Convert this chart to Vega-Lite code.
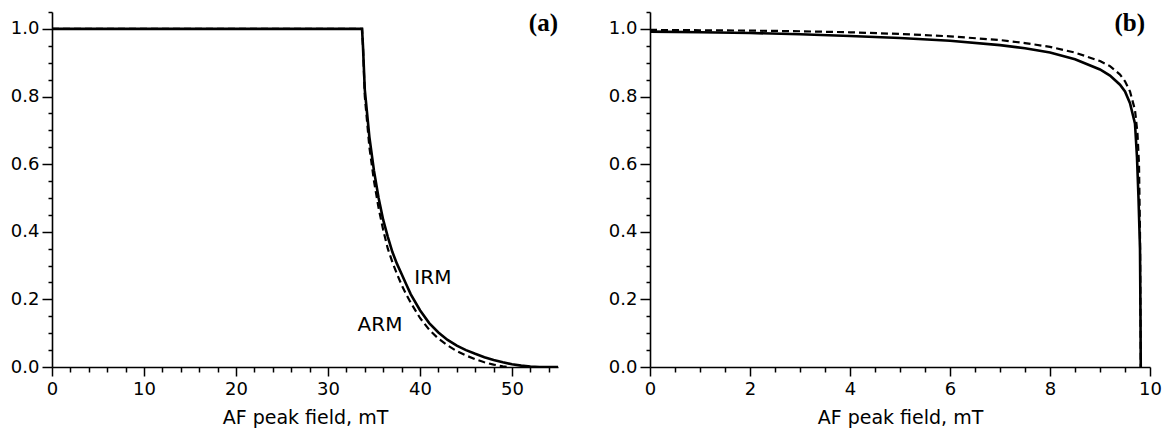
{
  "$schema": "https://vega.github.io/schema/vega-lite/v6.json",
  "padding": {"left": 10, "top": 10, "right": 5, "bottom": 5},
  "background": "white",
  "config": {
    "view": {"stroke": null},
    "font": "DejaVu Sans",
    "axis": {
      "grid": false,
      "domainColor": "black",
      "domainWidth": 1.6,
      "tickColor": "black",
      "tickWidth": 1.5,
      "labelFont": "DejaVu Sans",
      "labelFontSize": 18,
      "labelColor": "black",
      "titleFont": "DejaVu Sans",
      "titleFontSize": 19,
      "titleFontWeight": "normal",
      "titleColor": "black"
    }
  },
  "datasets": {
    "a": [
      {"s": "IRM", "x": 0, "y": 1}, {"s": "IRM", "x": 33.7, "y": 1}, {"s": "IRM", "x": 33.8, "y": 0.95}, {"s": "IRM", "x": 34, "y": 0.82}, {"s": "IRM", "x": 34.5, "y": 0.68}, {"s": "IRM", "x": 35, "y": 0.58}, {"s": "IRM", "x": 35.5, "y": 0.5}, {"s": "IRM", "x": 36, "y": 0.435}, {"s": "IRM", "x": 36.5, "y": 0.385}, {"s": "IRM", "x": 37, "y": 0.34}, {"s": "IRM", "x": 37.5, "y": 0.305}, {"s": "IRM", "x": 38, "y": 0.275}, {"s": "IRM", "x": 38.5, "y": 0.245}, {"s": "IRM", "x": 39, "y": 0.215}, {"s": "IRM", "x": 40, "y": 0.168}, {"s": "IRM", "x": 41, "y": 0.13}, {"s": "IRM", "x": 42, "y": 0.102}, {"s": "IRM", "x": 43, "y": 0.08}, {"s": "IRM", "x": 44, "y": 0.063}, {"s": "IRM", "x": 45, "y": 0.05}, {"s": "IRM", "x": 46, "y": 0.039}, {"s": "IRM", "x": 47, "y": 0.029}, {"s": "IRM", "x": 48, "y": 0.021}, {"s": "IRM", "x": 49, "y": 0.014}, {"s": "IRM", "x": 50, "y": 0.008}, {"s": "IRM", "x": 51, "y": 0.004}, {"s": "IRM", "x": 52, "y": 0.001}, {"s": "IRM", "x": 53, "y": 0}, {"s": "IRM", "x": 55, "y": 0},
      {"s": "ARM", "x": 0, "y": 1}, {"s": "ARM", "x": 33.7, "y": 1}, {"s": "ARM", "x": 33.8, "y": 0.95}, {"s": "ARM", "x": 34, "y": 0.8}, {"s": "ARM", "x": 34.5, "y": 0.65}, {"s": "ARM", "x": 35, "y": 0.55}, {"s": "ARM", "x": 35.5, "y": 0.47}, {"s": "ARM", "x": 36, "y": 0.405}, {"s": "ARM", "x": 36.5, "y": 0.35}, {"s": "ARM", "x": 37, "y": 0.31}, {"s": "ARM", "x": 37.5, "y": 0.275}, {"s": "ARM", "x": 38, "y": 0.243}, {"s": "ARM", "x": 38.5, "y": 0.215}, {"s": "ARM", "x": 39, "y": 0.19}, {"s": "ARM", "x": 40, "y": 0.145}, {"s": "ARM", "x": 41, "y": 0.11}, {"s": "ARM", "x": 42, "y": 0.084}, {"s": "ARM", "x": 43, "y": 0.064}, {"s": "ARM", "x": 44, "y": 0.047}, {"s": "ARM", "x": 45, "y": 0.034}, {"s": "ARM", "x": 46, "y": 0.023}, {"s": "ARM", "x": 47, "y": 0.014}, {"s": "ARM", "x": 48, "y": 0.007}, {"s": "ARM", "x": 49, "y": 0.002}, {"s": "ARM", "x": 49.5, "y": 0}
    ],
    "b": [
      {"s": "IRM", "x": 0, "y": 0.992}, {"s": "IRM", "x": 1, "y": 0.99}, {"s": "IRM", "x": 2, "y": 0.988}, {"s": "IRM", "x": 3, "y": 0.984}, {"s": "IRM", "x": 4, "y": 0.979}, {"s": "IRM", "x": 5, "y": 0.973}, {"s": "IRM", "x": 6, "y": 0.965}, {"s": "IRM", "x": 7, "y": 0.952}, {"s": "IRM", "x": 7.5, "y": 0.943}, {"s": "IRM", "x": 8, "y": 0.93}, {"s": "IRM", "x": 8.5, "y": 0.91}, {"s": "IRM", "x": 9, "y": 0.88}, {"s": "IRM", "x": 9.2, "y": 0.862}, {"s": "IRM", "x": 9.4, "y": 0.835}, {"s": "IRM", "x": 9.5, "y": 0.815}, {"s": "IRM", "x": 9.6, "y": 0.78}, {"s": "IRM", "x": 9.7, "y": 0.72}, {"s": "IRM", "x": 9.74, "y": 0.62}, {"s": "IRM", "x": 9.77, "y": 0.5}, {"s": "IRM", "x": 9.8, "y": 0.35}, {"s": "IRM", "x": 9.81, "y": 0.15}, {"s": "IRM", "x": 9.815, "y": 0},
      {"s": "ARM", "x": 0, "y": 0.997}, {"s": "ARM", "x": 1, "y": 0.996}, {"s": "ARM", "x": 2, "y": 0.995}, {"s": "ARM", "x": 3, "y": 0.993}, {"s": "ARM", "x": 4, "y": 0.99}, {"s": "ARM", "x": 5, "y": 0.985}, {"s": "ARM", "x": 6, "y": 0.978}, {"s": "ARM", "x": 7, "y": 0.967}, {"s": "ARM", "x": 7.5, "y": 0.958}, {"s": "ARM", "x": 8, "y": 0.947}, {"s": "ARM", "x": 8.5, "y": 0.93}, {"s": "ARM", "x": 9, "y": 0.905}, {"s": "ARM", "x": 9.2, "y": 0.89}, {"s": "ARM", "x": 9.4, "y": 0.865}, {"s": "ARM", "x": 9.5, "y": 0.845}, {"s": "ARM", "x": 9.6, "y": 0.815}, {"s": "ARM", "x": 9.7, "y": 0.76}, {"s": "ARM", "x": 9.75, "y": 0.69}, {"s": "ARM", "x": 9.78, "y": 0.6}, {"s": "ARM", "x": 9.8, "y": 0.4}, {"s": "ARM", "x": 9.81, "y": 0.15}, {"s": "ARM", "x": 9.815, "y": 0}
    ],
    "alabels": [
      {"t": "(a)", "x": 55, "y": 1.018, "k": "panel"},
      {"t": "IRM", "x": 41.4, "y": 0.263, "k": "curve"},
      {"t": "ARM", "x": 35.65, "y": 0.124, "k": "curve"}
    ],
    "blabels": [
      {"t": "(b)", "x": 9.9, "y": 1.018, "k": "panel"}
    ]
  },
  "hconcat": [
    {
      "width": 506,
      "height": 355,
      "layer": [
        {
          "data": {"name": "a"},
          "transform": [{"filter": "datum.s === 'IRM'"}],
          "mark": {"type": "line", "color": "black", "strokeWidth": 2.6, "clip": true},
          "encoding": {
            "x": {"field": "x", "type": "quantitative", "scale": {"domain": [0, 55], "nice": false, "zero": false},
              "axis": {"orient": "bottom", "values": [0, 10, 20, 30, 40, 50], "tickSize": 9, "labelPadding": 4, "title": "AF peak field, mT", "titlePadding": 10, "format": "d", "labelFlush": false}},
            "y": {"field": "y", "type": "quantitative", "scale": {"domain": [0, 1.05], "nice": false},
              "axis": {"orient": "left", "values": [0, 0.2, 0.4, 0.6, 0.8, 1.0], "tickSize": 10, "labelPadding": 3, "format": ".1f", "title": null}}
          }
        },
        {
          "data": {"name": "a"},
          "transform": [{"filter": "datum.s === 'ARM'"}],
          "mark": {"type": "line", "color": "black", "strokeWidth": 2.2, "strokeDash": [7, 4], "clip": true},
          "encoding": {
            "x": {"field": "x", "type": "quantitative",
              "axis": {"orient": "bottom", "values": [2, 4, 6, 8, 12, 14, 16, 18, 22, 24, 26, 28, 32, 34, 36, 38, 42, 44, 46, 48, 52, 54], "tickSize": 5, "labels": false, "domain": false, "title": null}},
            "y": {"field": "y", "type": "quantitative",
              "axis": {"orient": "left", "values": [0.05, 0.1, 0.15, 0.25, 0.3, 0.35, 0.45, 0.5, 0.55, 0.65, 0.7, 0.75, 0.85, 0.9, 0.95, 1.05], "tickSize": 4, "labels": false, "domain": false, "title": null}}
          }
        },
        {
          "data": {"name": "alabels"},
          "transform": [{"filter": "datum.k === 'curve'"}],
          "mark": {"type": "text", "font": "DejaVu Sans", "fontSize": 20, "color": "black", "align": "center", "baseline": "middle"},
          "encoding": {
            "x": {"field": "x", "type": "quantitative", "axis": null},
            "y": {"field": "y", "type": "quantitative", "axis": null},
            "text": {"field": "t"}
          }
        },
        {
          "data": {"name": "alabels"},
          "transform": [{"filter": "datum.k === 'panel'"}],
          "mark": {"type": "text", "font": "Liberation Serif", "fontWeight": "bold", "fontSize": 25, "color": "black", "align": "right", "baseline": "middle"},
          "encoding": {
            "x": {"field": "x", "type": "quantitative", "axis": null},
            "y": {"field": "y", "type": "quantitative", "axis": null},
            "text": {"field": "t"}
          }
        }
      ],
      "resolve": {"axis": {"x": "independent", "y": "independent"}}
    },
    {
      "width": 500,
      "height": 355,
      "layer": [
        {
          "data": {"name": "b"},
          "transform": [{"filter": "datum.s === 'IRM'"}],
          "mark": {"type": "line", "color": "black", "strokeWidth": 2.6, "clip": true},
          "encoding": {
            "x": {"field": "x", "type": "quantitative", "scale": {"domain": [0, 10], "nice": false, "zero": false},
              "axis": {"orient": "bottom", "values": [0, 2, 4, 6, 8, 10], "tickSize": 9, "labelPadding": 4, "title": "AF peak field, mT", "titlePadding": 10, "format": "d", "labelFlush": false}},
            "y": {"field": "y", "type": "quantitative", "scale": {"domain": [0, 1.05], "nice": false},
              "axis": {"orient": "left", "values": [0, 0.2, 0.4, 0.6, 0.8, 1.0], "tickSize": 10, "labelPadding": 3, "format": ".1f", "title": null}}
          }
        },
        {
          "data": {"name": "b"},
          "transform": [{"filter": "datum.s === 'ARM'"}],
          "mark": {"type": "line", "color": "black", "strokeWidth": 2.2, "strokeDash": [7, 4], "clip": true},
          "encoding": {
            "x": {"field": "x", "type": "quantitative",
              "axis": {"orient": "bottom", "values": [0.5, 1, 1.5, 2.5, 3, 3.5, 4.5, 5, 5.5, 6.5, 7, 7.5, 8.5, 9, 9.5], "tickSize": 5, "labels": false, "domain": false, "title": null}},
            "y": {"field": "y", "type": "quantitative",
              "axis": {"orient": "left", "values": [0.05, 0.1, 0.15, 0.25, 0.3, 0.35, 0.45, 0.5, 0.55, 0.65, 0.7, 0.75, 0.85, 0.9, 0.95, 1.05], "tickSize": 4, "labels": false, "domain": false, "title": null}}
          }
        },
        {
          "data": {"name": "blabels"},
          "mark": {"type": "text", "font": "Liberation Serif", "fontWeight": "bold", "fontSize": 25, "color": "black", "align": "right", "baseline": "middle"},
          "encoding": {
            "x": {"field": "x", "type": "quantitative", "axis": null},
            "y": {"field": "y", "type": "quantitative", "axis": null},
            "text": {"field": "t"}
          }
        }
      ],
      "resolve": {"axis": {"x": "independent", "y": "independent"}}
    }
  ],
  "spacing": 50
}
